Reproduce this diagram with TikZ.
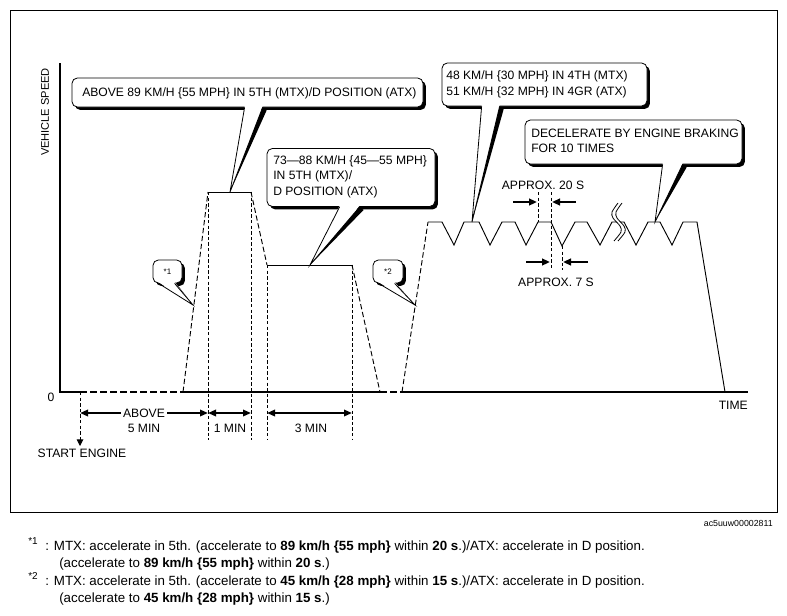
\documentclass[tikz,border=0pt]{standalone}
\usepackage{fontspec}
\setmainfont{Liberation Sans}
\usetikzlibrary{arrows.meta,calc,shadows}
\newcommand{\cptr}[4]{%
  \fill[black] ($(#1.south west)+(#3,0)$) -- ($(#1.south west)+(#3+4,3)$) -- (#4) -- cycle;
  \fill[white] ($(#1.south west)+(#2,-1.2)$) -- ($(#1.south west)+(#3,-1.2)$) -- (#4) -- cycle;
  \draw[line width=0.6pt] ($(#1.south west)+(#2,0)$) -- (#4) -- ($(#1.south west)+(#3,0)$);
}
\begin{document}
\begin{tikzpicture}[x=0.75pt,y=-0.75pt,
  lbl/.style={font=\fontsize{9.1}{11.6}\selectfont, inner sep=0pt},
  axisln/.style={line width=1.5pt},
  thinln/.style={line width=0.7pt},
  dashln/.style={line width=0.7pt, dash pattern=on 4pt off 2pt},
  vdashln/.style={line width=0.7pt, dash pattern=on 2.6pt off 1.6pt},
  basedash/.style={line width=0.8pt, dash pattern=on 5pt off 2.5pt},
  dimarrow/.style={line width=1.6pt, {Triangle[length=6pt,width=4.8pt]}-{Triangle[length=6pt,width=4.8pt]}},
  oarrow/.style={line width=1.8pt, -{Triangle[length=6pt,width=5pt]}},
  cbox/.style={draw, line width=0.6pt, fill=white, rounded corners=4pt, inner sep=0pt,
    drop shadow={shadow xshift=2.2pt, shadow yshift=-2.2pt, fill=black, opacity=1}},
  fn/.style={font=\fontsize{10}{12}\selectfont, inner sep=0pt, anchor=base west},
  fnm/.style={font=\fontsize{7.5}{8}\selectfont, inner sep=0pt, anchor=base west}
]
\useasboundingbox (0,0) rectangle (787,615);
% frame
\draw[line width=0.7pt] (10,10) rectangle (777,512);

% key points
\coordinate (O) at (60,392);
\coordinate (Ytop) at (60,63);
\coordinate (Xend) at (748,392);
\coordinate (E0) at (80,392);
\coordinate (E1) at (80,446);
\coordinate (A1) at (183,392);
\coordinate (A2) at (208,192);
\coordinate (A3) at (251,192);
\coordinate (A4) at (267,265);
\coordinate (A5) at (352,265);
\coordinate (A6) at (380,392);
\coordinate (B1) at (402,392);
\coordinate (B2) at (428,222);
\coordinate (Bend) at (725,392);

% axes and baseline
\draw[axisln] (Ytop) -- (O) -- (E0);
\draw[basedash] (E0) -- (A1);
\draw[axisln] (A1) -- (A6);
\draw[basedash] (A6) -- (B1);
\draw[axisln] (B1) -- (Xend);

% first profile
\draw[dashln] (A1) -- (A2);
\draw[thinln] (A2) -- (A3);
\draw[dashln] (A3) -- (A4);
\draw[thinln] (A4) -- (A5);
\draw[dashln] (A5) -- (A6);

% second profile
\draw[dashln] (B1) -- (B2);
\draw[thinln] (B2) -- (442,222) -- (454,245) -- (464,222) -- (479,222) -- (490,245)
  -- (502,222) -- (515,222) -- (526,245) -- (538,222) -- (551,222) -- (562,246)
  -- (575,222) -- (587,222) -- (600,245) -- (612,222) -- (624,222) -- (636,245)
  -- (648,222) -- (660,222) -- (672,245) -- (683,222) -- (697,222) -- (Bend);
% break symbol
\fill[white] plot[smooth] coordinates {(618,203) (612,212) (613,218) (620,226) (621,232) (614,241)}
  -- plot[smooth] coordinates {(618,241) (625,232) (624,226) (617,218) (616,212) (622,203)} -- cycle;
\draw[line width=0.6pt] plot[smooth] coordinates {(618,203) (612,212) (613,218) (620,226) (621,232) (614,241)};
\draw[line width=0.6pt] plot[smooth] coordinates {(622,203) (616,212) (617,218) (624,226) (625,232) (618,241)};

% vertical dashed markers
\draw[vdashln, -{Triangle[length=5pt,width=5pt]}] (E0) -- (E1);
\draw[vdashln] (A2) -- (208,440);
\draw[vdashln] (A3) -- (251,440);
\draw[vdashln] (A4) -- (267,440);
\draw[vdashln] (A5) -- (352,440);

% dimension arrows
\draw[dimarrow] (80,413) -- (208,413);
\draw[dimarrow] (208,413) -- (251,413);
\draw[dimarrow] (267,413) -- (352,413);
\node[lbl, fill=white, inner xsep=1.5pt] (above) at (144,413) {ABOVE};
\node[lbl] (five) at (144,428) {5 MIN};
\node[lbl] (one) at (230,428) {1 MIN};
\node[lbl] (three) at (311,428) {3 MIN};

% axis labels
\node[lbl] (zero) at (51,397) {0};
\node[lbl, font=\fontsize{8.3}{9}\selectfont, rotate=90] (vs) at (45,112) {VEHICLE SPEED};
\node[lbl, anchor=east] (time) at (748,405) {TIME};
\node[lbl] (start) at (82,453) {START ENGINE};

% approx markers
\draw[vdashln] (538,192) -- (538,222);
\draw[vdashln] (551,192) -- (551,270);
\draw[vdashln] (562,246) -- (562,270);
\draw[oarrow] (513,202) -- (537,202);
\draw[oarrow] (576,202) -- (552,202);
\draw[oarrow] (526,262) -- (550,262);
\draw[oarrow] (588,262) -- (563,262);
\node[lbl] (a20) at (543,185) {APPROX. 20 S};
\node[lbl] (a7) at (556,282) {APPROX. 7 S};

% callouts
\coordinate (p1) at (230,192);
\coordinate (p2) at (310,265);
\coordinate (p3) at (472,222);
\coordinate (p4) at (655,222);
\coordinate (pm1) at (193,305);
\coordinate (pm2) at (415,305);

\node[cbox, minimum width=263.25pt, minimum height=21.75pt] (c1) at (247.5,92.5) {};
\node[lbl, anchor=west, align=left] (t1) at (82,93) {ABOVE 89 KM/H \{55 MPH\} IN 5TH (MTX)/D POSITION (ATX)};
\cptr{c1}{173}{191}{p1}

\node[cbox, minimum width=126pt, minimum height=43.5pt] (c2) at (351,177.5) {};
\node[lbl, anchor=west, align=left] (t2) at (273,176.5) {73—88 KM/H \{45—55 MPH\}\\IN 5TH (MTX)/\\D POSITION (ATX)};
\cptr{c2}{73}{93}{p2}

\node[cbox, minimum width=153.75pt, minimum height=32.25pt] (c3) at (544.5,84.5) {};
\node[lbl, anchor=west, align=left] (t3) at (446,84.5) {48 KM/H \{30 MPH\} IN 4TH (MTX)\\51 KM/H \{32 MPH\} IN 4GR (ATX)};
\cptr{c3}{40}{58}{p3}

\node[cbox, minimum width=162.75pt, minimum height=33pt] (c4) at (633.5,142) {};
\node[lbl, anchor=west, align=left] (t4) at (531,141) {DECELERATE BY ENGINE BRAKING\\FOR 10 TIMES};
\cptr{c4}{138}{158}{p4}

\node[cbox, minimum width=21.75pt, minimum height=17.25pt, font=\fontsize{6}{6}\selectfont] (m1) at (167.5,271.5) {*1};
\cptr{m1}{6}{22}{pm1}
\node[cbox, minimum width=22.5pt, minimum height=17.25pt, font=\fontsize{6}{6}\selectfont] (m2) at (388,271.5) {*2};
\cptr{m2}{6}{22}{pm2}

% id
\node[inner sep=0pt, anchor=east, font=\fontsize{6.6}{7}\selectfont] (id) at (773,523) {ac5uuw00002811};

% footnotes
\node[fnm] (f1m) at (28,544) {*1};
\node[fn] (f1a) at (45,550) {: MTX: accelerate in 5th. (accelerate to \textbf{89 km/h \{55 mph\}} within \textbf{20 s}.)/ATX: accelerate in D position.};
\node[fn] (f1b) at (59,567) {(accelerate to \textbf{89 km/h \{55 mph\}} within \textbf{20 s}.)};
\node[fnm] (f2m) at (28,579) {*2};
\node[fn] (f2a) at (45,585) {: MTX: accelerate in 5th. (accelerate to \textbf{45 km/h \{28 mph\}} within \textbf{15 s}.)/ATX: accelerate in D position.};
\node[fn] (f2b) at (59,602) {(accelerate to \textbf{45 km/h \{28 mph\}} within \textbf{15 s}.)};
\end{tikzpicture}
\end{document}
